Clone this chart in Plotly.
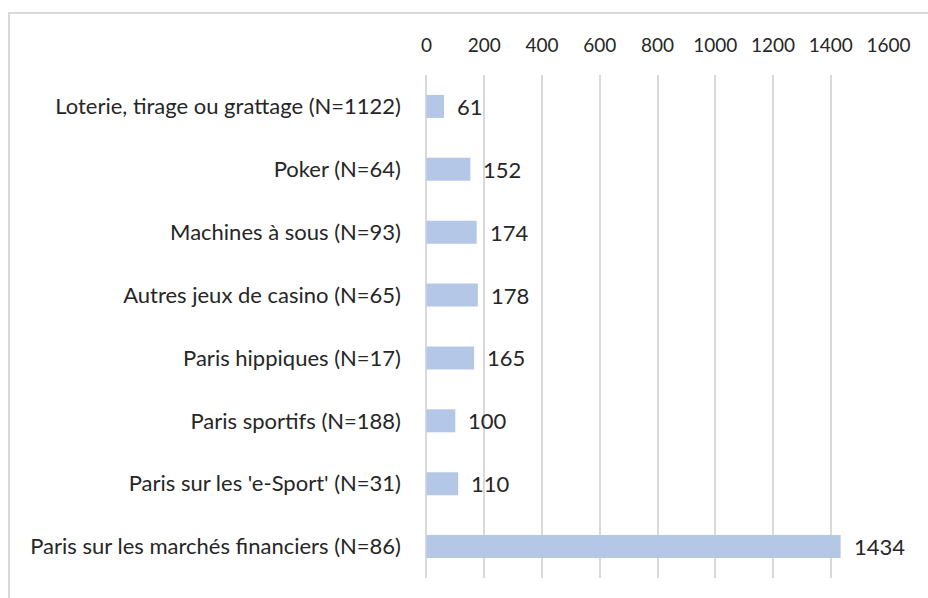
import plotly.graph_objects as go

categories = [
    "Loterie, tirage ou grattage (N=1122)",
    "Poker (N=64)",
    "Machines à sous (N=93)",
    "Autres jeux de casino (N=65)",
    "Paris hippiques (N=17)",
    "Paris sportifs (N=188)",
    "Paris sur les 'e-Sport' (N=31)",
    "Paris sur les marchés financiers (N=86)",
]
values = [61, 152, 174, 178, 165, 100, 110, 1434]
tick_vals = [0, 200, 400, 600, 800, 1000, 1200, 1400, 1600]

FONT = "Lato, Open Sans, sans-serif"
TXT = "#262626"
GRID = "#D9D9D9"
L, R, T, B = 426, 39, 75, 20
W, H = 928, 598
pw, ph = W - L - R, H - T - B

fig = go.Figure(go.Bar(
    y=categories, x=values, orientation="h",
    marker=dict(color="#B4C7E7", line=dict(width=0)),
    width=0.366,
))

for c, v in zip(categories, values):
    fig.add_annotation(x=v, y=c, text=str(v), showarrow=False,
                       xanchor="left", xshift=11,
                       font=dict(family=FONT, size=22, color=TXT))

fig.update_layout(
    width=W, height=H,
    margin=dict(l=L, r=R, t=T, b=B),
    paper_bgcolor="white", plot_bgcolor="white",
    showlegend=False,
    font=dict(family=FONT, size=22, color=TXT),
    xaxis=dict(range=[-1.5, 1601.5], tickvals=tick_vals, side="top",
               showgrid=True, gridcolor=GRID, gridwidth=1.5,
               zeroline=True, zerolinecolor=GRID, zerolinewidth=1.5,
               showline=False, ticks="",
               ticklabelstandoff=18,
               tickfont=dict(family=FONT, size=19, color=TXT)),
    yaxis=dict(autorange="reversed", showgrid=False, ticks="",
               ticklabelstandoff=24,
               tickfont=dict(family=FONT, size=22, color=TXT)),
    shapes=[dict(type="rect", xref="paper", yref="paper",
                 x0=(9 - L) / pw, x1=1.2, y0=-0.2, y1=1 + (T - 13) / ph,
                 line=dict(color=GRID, width=2), layer="below")],
)

fig.write_html("out.html", config={"displayModeBar": False},
               post_script="document.body.style.margin='0';")
